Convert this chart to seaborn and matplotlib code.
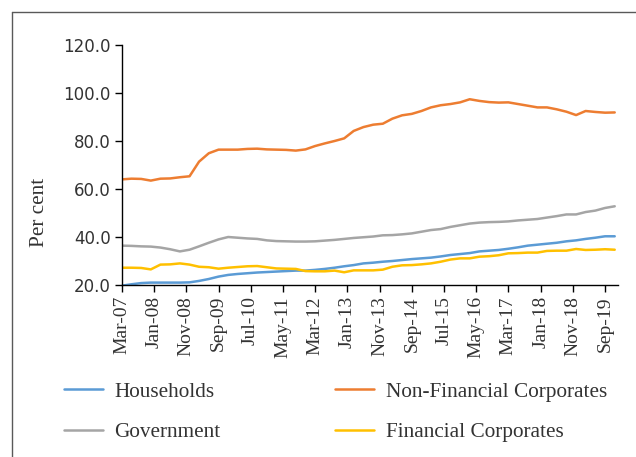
import matplotlib
matplotlib.use("Agg")
import matplotlib.pyplot as plt
import matplotlib.dates as mdates
from matplotlib.ticker import FormatStrFormatter
from matplotlib.lines import Line2D
import pandas as pd
import seaborn as sns

# quarterly observations, Mar-07 .. Dec-19
quarters = pd.date_range("2007-03-01", periods=52, freq="3MS")

households = [19.7, 20.3, 20.8, 21.0, 21.0, 21.0, 21.0, 21.1, 21.7, 22.5,
              23.5, 24.2, 24.6, 24.9, 25.2, 25.4, 25.6, 25.8, 26.0, 26.0,
              26.3, 26.7, 27.2, 27.8, 28.3, 29.0, 29.3, 29.7, 30.0, 30.4,
              30.8, 31.1, 31.4, 31.9, 32.5, 32.9, 33.3, 34.0, 34.3, 34.6,
              35.1, 35.7, 36.4, 36.8, 37.2, 37.6, 38.2, 38.6, 39.2, 39.7,
              40.3, 40.3]
non_financial = [64.0, 64.3, 64.2, 63.5, 64.3, 64.4, 64.9, 65.3, 71.4, 74.9,
                 76.4, 76.4, 76.4, 76.7, 76.8, 76.5, 76.4, 76.3, 76.0, 76.5,
                 77.9, 79.0, 80.0, 81.1, 84.2, 85.8, 86.8, 87.2, 89.3, 90.7,
                 91.3, 92.5, 94.0, 94.9, 95.4, 96.1, 97.4, 96.7, 96.2, 96.0,
                 96.1, 95.4, 94.7, 94.0, 94.0, 93.2, 92.2, 90.8, 92.5, 92.1,
                 91.8, 91.9]
government = [36.4, 36.3, 36.1, 36.0, 35.6, 34.9, 34.0, 34.7, 36.1, 37.6,
              39.0, 40.0, 39.7, 39.4, 39.2, 38.6, 38.3, 38.2, 38.1, 38.1,
              38.2, 38.5, 38.8, 39.2, 39.6, 39.9, 40.2, 40.7, 40.8, 41.1,
              41.5, 42.2, 42.9, 43.3, 44.2, 44.9, 45.6, 46.0, 46.2, 46.3,
              46.5, 46.9, 47.2, 47.5, 48.1, 48.7, 49.4, 49.4, 50.4, 51.0,
              52.1, 52.8]
financial = [27.2, 27.2, 27.1, 26.5, 28.5, 28.6, 29.0, 28.5, 27.6, 27.4,
             26.8, 27.2, 27.5, 27.8, 27.9, 27.4, 26.9, 26.8, 26.7, 25.8,
             25.7, 25.7, 26.0, 25.3, 26.1, 26.1, 26.1, 26.4, 27.6, 28.2,
             28.3, 28.6, 29.0, 29.7, 30.6, 31.1, 31.1, 31.8, 32.0, 32.4,
             33.2, 33.3, 33.5, 33.5, 34.2, 34.3, 34.3, 35.0, 34.6, 34.7,
             34.9, 34.7]

series_names = ["Households", "Government", "Non-Financial Corporates", "Financial Corporates"]
series_colors = ["#5B9BD5", "#A5A5A5", "#ED7D31", "#FFC000"]
tick_dates = pd.date_range("2007-03-01", "2019-09-01", freq="10MS")
y_ticks = [20, 40, 60, 80, 100, 120]

df = pd.DataFrame({
    "date": list(quarters) * 4,
    "value": households + government + non_financial + financial,
    "series": [n for n in series_names for _ in quarters],
})

sns.set_theme(style="white")
plt.rcParams["font.family"] = ["Liberation Serif", "DejaVu Serif"]

fig = plt.figure(figsize=(6.36, 4.57), dpi=100)
ax = fig.add_axes([121.7 / 636, 1 - 285 / 457, (618 - 121.7) / 636, 240 / 457])

sns.lineplot(data=df, x="date", y="value", hue="series", hue_order=series_names,
             palette=dict(zip(series_names, series_colors)), linewidth=1.8, ax=ax)

handles, labels = ax.get_legend_handles_labels()
ax.get_legend().remove()

ax.set_ylim(20, 120)
ax.set_yticks(y_ticks)
ax.yaxis.set_major_formatter(FormatStrFormatter("%.1f"))
ax.set_xlim(pd.Timestamp("2007-03-01"), pd.Timestamp("2020-01-01"))
ax.set_xticks(tick_dates)
ax.xaxis.set_major_formatter(mdates.DateFormatter("%b-%y"))

for lab in ax.get_xticklabels():
    lab.set_rotation(90)
    lab.set_fontsize(14)
    lab.set_color("#333333")
for lab in ax.get_yticklabels():
    lab.set_family("DejaVu Sans")
    lab.set_fontsize(12)
    lab.set_color("#333333")

ax.tick_params(axis="both", direction="out", length=5, width=1, color="black",
               bottom=True, left=True, pad=3)
sns.despine(ax=ax)
for side in ["left", "bottom"]:
    ax.spines[side].set_color("black")
    ax.spines[side].set_linewidth(1)

ax.set_xlabel("")
ax.set_ylabel("Per cent", fontsize=15.3, color="#333333", va="center")
ax.yaxis.set_label_coords((40 - 121.7) / (618 - 121.7), (285 - 212) / 240)

fig.legend(handles, labels, ncol=2, loc="upper left",
           bbox_to_anchor=(63.5 / 636, 1 - 382 / 457), frameon=False,
           fontsize=15.3, handlelength=1.84, handletextpad=0.55,
           columnspacing=5.4, labelspacing=0.97, borderpad=0, borderaxespad=0,
           labelcolor="#333333")

# frame of the original panel
fig.add_artist(Line2D([12 / 636, 1], [1 - 12 / 457] * 2, transform=fig.transFigure,
                      color="#595959", lw=1))
fig.add_artist(Line2D([12 / 636] * 2, [0, 1 - 12 / 457], transform=fig.transFigure,
                      color="#595959", lw=1))

fig.savefig("out.png", dpi=100)
